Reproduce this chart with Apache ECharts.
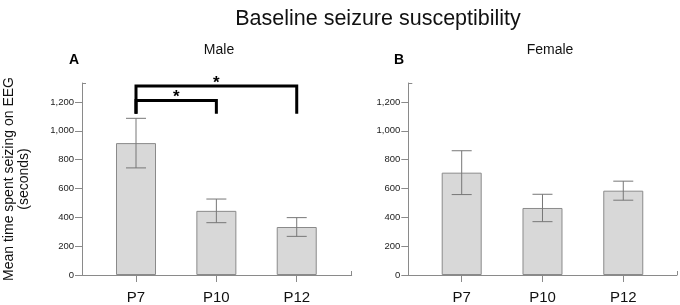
<!DOCTYPE html>
<html>
<head>
<meta charset="utf-8">
<script src="https://cdn.jsdelivr.net/npm/echarts@6/dist/echarts.min.js"></script>
<style>html,body{margin:0;padding:0;background:#fff}#c{width:680px;height:305px}</style>
</head>
<body>
<div id="c"></div>
<script>
const categories = ['P7', 'P10', 'P12'];
const maleMean = [915, 445, 333];
const maleErr = [172, 82, 65];
const femaleMean = [710, 465, 585];
const femaleErr = [152, 95, 66];
const yTicks = [0, 200, 400, 600, 800, 1000, 1200];
const yMax = 1332;
// significance brackets: [from index, to index, height]
const maleBrackets = [[0, 1, 1210], [0, 2, 1312]];
const bracketLegBottom = 1118;
const sigLabel = '*';

const FONT = 'Liberation Sans, Arial, sans-serif';
const AXIS = '#8a8a8a';
const XR = [[-0.672, 2.684], [-0.661, 2.665]];

const chart = echarts.init(document.getElementById('c'), null, {renderer: 'canvas'});

function mainX(g) {
  return {
    type: 'value', gridIndex: g, min: XR[g][0], max: XR[g][1],
    axisLine: {show: true, onZero: false, lineStyle: {color: AXIS, width: 1}},
    axisTick: {show: true, customValues: [0, 1, 2], length: 7, lineStyle: {color: AXIS}},
    axisLabel: {show: true, customValues: [0, 1, 2], margin: 15,
      formatter: v => categories[Math.round(v)], color: '#111', fontSize: 15, fontFamily: FONT},
    splitLine: {show: false}
  };
}
function stubX(g) {
  return {
    type: 'value', gridIndex: g, min: XR[g][0], max: XR[g][1], position: 'bottom',
    axisLine: {show: false, onZero: false},
    axisTick: {show: true, inside: true, customValues: [XR[g][1]], length: 4, lineStyle: {color: AXIS}},
    axisLabel: {show: false}, splitLine: {show: false}
  };
}
function mainY(g, withName) {
  return {
    type: 'value', gridIndex: g, min: 0, max: yMax, position: 'left',
    name: withName ? 'Mean time spent seizing on EEG\n(seconds)' : '',
    nameLocation: 'middle', nameRotate: 90, nameGap: 50,
    nameTextStyle: {fontSize: 14, fontFamily: FONT, color: '#111', lineHeight: 15},
    axisLine: {show: true, onZero: false, lineStyle: {color: AXIS, width: 1}},
    axisTick: {show: true, customValues: yTicks, length: 7, lineStyle: {color: AXIS}},
    axisLabel: {show: true, customValues: yTicks, margin: 8, color: '#222', fontSize: 9.5, fontFamily: FONT,
      formatter: v => v.toLocaleString('en-US')},
    splitLine: {show: false}
  };
}
function stubY(g) {
  return {
    type: 'value', gridIndex: g, min: 0, max: yMax, position: 'left', offset: 0,
    axisLine: {show: false, onZero: false},
    axisTick: {show: true, inside: true, customValues: [yMax], length: 4, lineStyle: {color: AXIS}},
    axisLabel: {show: false}, splitLine: {show: false}
  };
}

function barSeries(g, means) {
  return {
    type: 'bar', xAxisIndex: g, yAxisIndex: g, barWidth: 40,
    data: means.map((m, i) => [i, m]),
    itemStyle: {color: '#d8d8d8', borderColor: '#8a8a8a', borderWidth: 1},
    silent: true, animation: false
  };
}
function errSeries(g, means, errs) {
  return {
    type: 'custom', xAxisIndex: g, yAxisIndex: g, silent: true, animation: false, z: 5,
    data: means.map((m, i) => [i, m - errs[i], m + errs[i]]),
    renderItem: (params, api) => {
      const x = api.value(0);
      const lo = api.coord([x, api.value(1)]);
      const hi = api.coord([x, api.value(2)]);
      const hw = 10;
      const st = {stroke: '#777', lineWidth: 1};
      return {type: 'group', children: [
        {type: 'line', shape: {x1: lo[0], y1: lo[1], x2: hi[0], y2: hi[1]}, style: st},
        {type: 'line', shape: {x1: hi[0] - hw, y1: hi[1], x2: hi[0] + hw, y2: hi[1]}, style: st},
        {type: 'line', shape: {x1: lo[0] - hw, y1: lo[1], x2: lo[0] + hw, y2: lo[1]}, style: st}
      ]};
    }
  };
}
function bracketSeries(g, brackets) {
  return {
    type: 'custom', xAxisIndex: g, yAxisIndex: g, silent: true, animation: false, z: 6, clip: false,
    data: brackets,
    renderItem: (params, api) => {
      const a = api.value(0), b = api.value(1), h = api.value(2);
      const p1 = api.coord([a, bracketLegBottom]);
      const p2 = api.coord([a, h]);
      const p3 = api.coord([b, h]);
      const p4 = api.coord([b, bracketLegBottom]);
      return {type: 'group', children: [
        {type: 'polyline', shape: {points: [p1, p2, p3, p4]},
          style: {stroke: '#000', lineWidth: 3, fill: null, lineJoin: 'miter'}},
        {type: 'text', x: (p2[0] + p3[0]) / 2, y: p2[1] - 3,
          style: {text: sigLabel, fontSize: 17, fontWeight: 'bold', fontFamily: FONT, fill: '#000',
            align: 'center', verticalAlign: 'middle'}}
      ]};
    }
  };
}

const option = {
  backgroundColor: '#fff',
  animation: false,
  title: [
    {text: 'Baseline seizure susceptibility', left: 373, top: 3, textAlign: 'center',
      textStyle: {fontSize: 21.5, fontWeight: 'normal', fontFamily: FONT, color: '#111'}},
    {text: 'Male', left: 214, top: 38, textAlign: 'center',
      textStyle: {fontSize: 14, fontWeight: 'normal', fontFamily: FONT, color: '#111'}},
    {text: 'Female', left: 545, top: 38, textAlign: 'center',
      textStyle: {fontSize: 14, fontWeight: 'normal', fontFamily: FONT, color: '#111'}},
    {text: 'A', left: 64, top: 48,
      textStyle: {fontSize: 14, fontWeight: 'bold', fontFamily: FONT, color: '#000'}},
    {text: 'B', left: 389, top: 48,
      textStyle: {fontSize: 14, fontWeight: 'bold', fontFamily: FONT, color: '#000'}}
  ],
  grid: [
    {left: 82, top: 83, width: 269.7, height: 192, outerBoundsMode: 'none', containLabel: false},
    {left: 408.3, top: 83, width: 268.7, height: 192, outerBoundsMode: 'none', containLabel: false}
  ],
  xAxis: [mainX(0), mainX(1), stubX(0), stubX(1)],
  yAxis: [mainY(0, true), mainY(1, false), stubY(0), stubY(1)],
  series: [
    barSeries(0, maleMean), barSeries(1, femaleMean),
    errSeries(0, maleMean, maleErr), errSeries(1, femaleMean, femaleErr),
    bracketSeries(0, maleBrackets)
  ]
};
chart.setOption(option);
</script>
</body>
</html>
